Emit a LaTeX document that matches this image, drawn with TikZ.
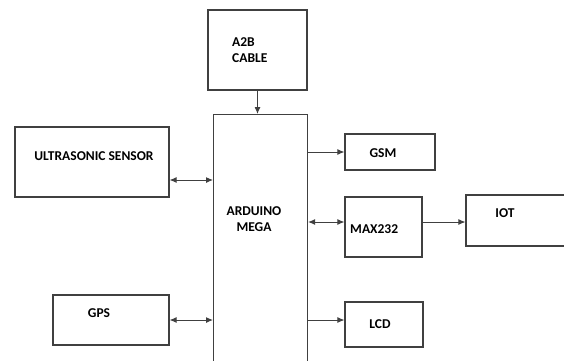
\documentclass[tikz,border=0pt]{standalone}
\usepackage{fontspec}
\setmainfont{Carlito}
\usetikzlibrary{arrows.meta,positioning}

\begin{document}
\begin{tikzpicture}[x=1pt,y=-1pt,
  blk/.style={draw=black!75,line width=1.1pt,rectangle,inner sep=0pt},
  txt/.style={font=\bfseries\fontsize{13.5}{16}\selectfont,inner sep=0pt},
  link/.style={draw=black!75,line width=1pt,-{Latex[length=7pt,width=6pt]}},
  both/.style={draw=black!75,line width=1pt,{Latex[length=7pt,width=6pt]}-{Latex[length=7pt,width=6pt]}}]
\clip (0,0) rectangle (564,360);
% boxes
\node[blk,minimum width=99,minimum height=80] (a2b) at (257.5,50) {};
\node[blk,minimum width=94,minimum height=256,anchor=north west] (mega) at (213,114) {};
\node[blk,minimum width=154,minimum height=70] (us) at (92,162) {};
\node[blk,minimum width=116,minimum height=50] (gps) at (111,320) {};
\node[blk,minimum width=90,minimum height=36] (gsm) at (390,152) {};
\node[blk,minimum width=77,minimum height=60] (max) at (383.5,227) {};
\node[blk,minimum width=100,minimum height=51] (iot) at (516,220.5) {};
\node[blk,minimum width=78,minimum height=45] (lcd) at (384,324.5) {};
% texts
\node[txt,align=left,anchor=west] (a2bT) at (232,50) {A2B\\CABLE};
\node[txt,align=center] (megaT) at (254,219) {ARDUINO\\MEGA};
\node[txt] (usT) at (94,156) {ULTRASONIC SENSOR};
\node[txt] (gpsT) at (99,313) {GPS};
\node[txt] (gsmT) at (383,153) {GSM};
\node[txt,anchor=west] (maxT) at (350,229) {MAX232};
\node[txt] (iotT) at (505,213) {IOT};
\node[txt] (lcdT) at (380,324) {LCD};
% connectors
\coordinate (usA) at ([yshift=-18pt]us.east);
\coordinate (maxA) at ([yshift=5pt]max.west);
\draw[link] (a2b.south) -- (a2b.south |- mega.north);
\draw[both] (usA) -- (usA -| mega.west);
\draw[both] (gps.east) -- (gps.east -| mega.west);
\draw[link] (mega.east |- gsm.west) -- (gsm.west);
\draw[both] (maxA -| mega.east) -- (maxA);
\draw[link] (maxA -| max.east) -- (maxA -| iot.west);
\draw[link] (mega.east |- gps.east) -- (gps.east -| lcd.west);
\end{tikzpicture}
\end{document}
